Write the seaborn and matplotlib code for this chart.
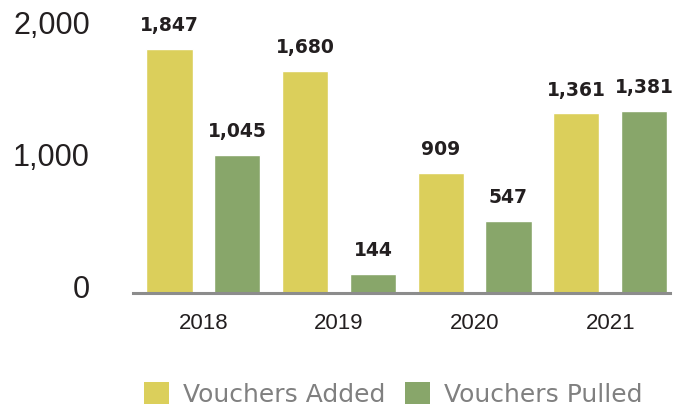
import pandas as pd
import seaborn as sns
import matplotlib.pyplot as plt
import matplotlib.transforms as mtransforms
from matplotlib.patches import Patch

sns.set_theme(style="white")

years = ["2018", "2019", "2020", "2021"]
added = [1847, 1680, 909, 1361]
pulled = [1045, 144, 547, 1381]
series = ["Vouchers Added", "Vouchers Pulled"]
colors = ["#DBCF5B", "#88A66A"]

df = pd.DataFrame({
    "year": years * 2,
    "value": added + pulled,
    "series": [series[0]] * 4 + [series[1]] * 4,
})

fig = plt.figure(figsize=(6.92, 4.13), dpi=100)
ax = fig.add_axes([0.192, 0.29, 0.776, 0.71])

sns.barplot(data=df, x="year", y="value", hue="series", palette=colors,
            width=1.0, gap=0.32, saturation=1, legend=False, ax=ax)

for cont in ax.containers:
    for bar in cont:
        h = bar.get_height()
        ax.annotate(f"{h:,.0f}", (bar.get_x() + bar.get_width() / 2, h),
                    xytext=(0, 10), textcoords="offset points",
                    ha="center", va="bottom", fontsize=13.5, fontweight="bold",
                    color="#231f20", family="DejaVu Sans", clip_on=False)

ax.set_xlim(-0.52, 3.44)
ax.set_ylim(0, 2220)
ax.set_yticks([0, 1000, 2000])
ax.set_yticklabels(["0", "1,000", "2,000"], fontsize=22, color="#231f20",
                   family="Liberation Sans")
ax.tick_params(axis="y", pad=31, length=0)
shift = mtransforms.ScaledTranslation(0, 5 / 72, fig.dpi_scale_trans)
for lab in ax.get_yticklabels():
    lab.set_transform(lab.get_transform() + shift)
ax.tick_params(axis="x", length=0, pad=14)
for lab in ax.get_xticklabels():
    lab.set_fontsize(16)
    lab.set_color("#231f20")
    lab.set_family("Liberation Sans")
ax.set_xlabel("")
ax.set_ylabel("")
sns.despine(ax=ax, left=True, top=True, right=True)
ax.spines["bottom"].set_color("#8c8c8c")
ax.spines["bottom"].set_linewidth(2.2)

handles = [Patch(facecolor=c, edgecolor="none") for c in colors]
leg = fig.legend(handles, series, loc="center", bbox_to_anchor=(0.568, 0.045),
                 ncol=2, frameon=False, handlelength=1.0, handleheight=1.0,
                 handletextpad=0.55, columnspacing=0.8,
                 prop={"family": "DejaVu Sans", "size": 18})
for t in leg.get_texts():
    t.set_color("#808080")

fig.savefig("out.png", dpi=100)
